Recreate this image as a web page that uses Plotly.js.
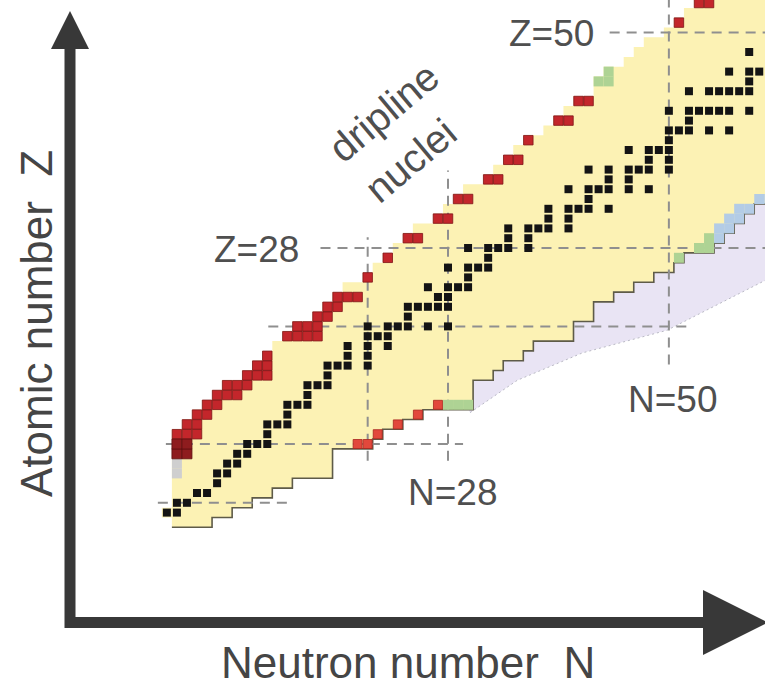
<!DOCTYPE html>
<html>
<head>
<meta charset="utf-8">
<script src="https://cdn.plot.ly/plotly-3.0.1.min.js"></script>
<style>
html,body{margin:0;padding:0;background:#fff;}
#chart{width:765px;height:689px;}
</style>
</head>
<body>
<div id="chart"></div>
<script>
// ---------- DATA ----------
// Rows of the chart: proton number Z and the lightest / heaviest known neutron number N
const zRows  = [0,1,2,3,4,5,6,7,8,9,10,11,12,13,14,15,16,17,18,19,20,21,22,23,24,25,26,27,28,29,30,31,32,33,34,35,36,37,38,39,40,41,42,43,44,45,46,47,48,49,50,51,52,53];
const nMinKnown = [1,0,1,1,1,1,1,1,1,1,2,3,4,5,6,8,9,10,11,12,13,15,16,17,18,20,21,22,23,24,25,27,28,29,30,32,33,34,35,36,38,39,40,41,43,43,44,46,47,48,50,51,52,53];
const nMaxKnown = [4,6,8,10,12,16,16,16,20,21,23,25,30,30,30,32,33,35,36,40,40,42,42,44,46,48,50,51,54,55,56,57,58,60,70,70,70,70,70,70,70,70,70,70,70,70,70,70,70,70,70,70,70,70];
const outlinedRows = 34; // neutron-rich edge drawn for Z = 0..33

// Stable nuclei: neutron numbers for each Z (index = Z)
const stableNByZ = [
  [],[0,1],[1,2],[3,4],[5],[5,6],[6,7],[7,8],[8,9,10],[10],
  [10,11,12],[12],[12,13,14],[14],[14,15,16],[16],[16,17,18,20],[18,20],[18,20,22],[20,21,22],
  [20,22,23,24,26,28],[24],[24,25,26,27,28],[27,28],[26,28,29,30],[30],[28,30,31,32],[32],[30,32,33,34,36],[34,36],
  [34,36,37,38,40],[38,40],[38,40,41,42,44],[42],[40,42,43,44,46,48],[44,46],[42,44,46,47,48,50],[48,50],[46,48,49,50],[50],
  [50,51,52,54,56],[52],[50,52,53,54,55,56,58],[],[52,54,55,56,57,58,60],[58],[56,58,59,60],[60],[58,60],[64],
  [62],[],[],[]
];

// Proton-dripline nuclei (red)
const dripRedN = [1,2,3, 2,3, 3,4, 4,5, 5,6,7, 6,7,8, 8,9,10, 9,10, 10, 12,13,14,15, 13,14,15, 15,16, 16,17, 17,18,19, 20, 22, 24,25, 27,28, 29,30, 32,33, 34,35, 36, 39,40, 41,42, 51, 53,54];
const dripRedZ = [9,9,9, 10,10, 11,11, 12,12, 13,13,13, 14,14,14, 15,15,15, 16,16, 17, 19,19,19,19, 20,20,20, 21,21, 22,22, 23,23,23, 25, 27, 29,29, 31,31, 33,33, 35,35, 37,37, 39, 41,41, 43,43, 51, 53,53];
// darker dripline cells at the light end
const dripDarkN = [1,2,1,2];
const dripDarkZ = [7,7,8,8];
// neutron-rich edge nuclei (light red)
const nRichRedN = [19,20,21,23,25,27];
const nRichRedZ = [8,8,9,10,11,12];
// green and blue edge cells
const greenN = [28,29,30,51,53,54,54,43,44,44];
const greenZ = [12,12,12,27,28,28,29,45,45,46];
const blueN  = [55,55,56,56,57,57,58,59,60];
const blueZ  = [29,30,30,31,31,32,32,33,33];
// grey cells
const greyN = [1,1];
const greyZ = [5,6];

// predicted region beyond the neutron-rich edge (dotted limit)
const dotLimitN = [30.2,34.9,41.4,49.8,59.6,62];
const dotLimitZ = [11.2,14.5,17.3,19.6,24.7,25.2];
const lavInnerN = [62,50,38,29];
const lavInnerZ = [40,34,22,14];

// magic-number guide lines
const magicZ      = [50,28,20,8,2];
const magicZFromN = [44.1,15.3,10.1,-0.1,-0.9];
const magicZToN   = [60,60,51.9,29.5,12.1];
const magicN      = [20,28,50];
const magicNFromZ = [6.3,6.3,16.1];
const magicNToZ   = [29.1,35.9,54];

// ---------- BUILD ----------
const polyX=[], polyY=[];
for (let i=0;i<zRows.length;i++){ polyX.push(nMinKnown[i]-0.5,nMinKnown[i]-0.5); polyY.push(zRows[i]-0.5,zRows[i]+0.5); }
for (let i=zRows.length-1;i>=0;i--){ polyX.push(nMaxKnown[i]+0.5,nMaxKnown[i]+0.5); polyY.push(zRows[i]+0.5,zRows[i]-0.5); }

const edgeX=[nMinKnown[0]-0.5], edgeY=[zRows[0]-0.5];
for (let i=0;i<outlinedRows;i++){ edgeX.push(nMaxKnown[i]+0.5,nMaxKnown[i]+0.5); edgeY.push(zRows[i]-0.5,zRows[i]+0.5); }

const lavX = dotLimitN.concat(lavInnerN), lavY = dotLimitZ.concat(lavInnerZ);

const guideX=[], guideY=[];
magicZ.forEach((z,i)=>{ guideX.push(magicZFromN[i],magicZToN[i],null); guideY.push(z,z,null); });
magicN.forEach((n,i)=>{ guideX.push(n,n,null); guideY.push(magicNFromZ[i],magicNToZ[i],null); });

const stN=[], stZ=[];
stableNByZ.forEach((list,z)=>list.forEach(n=>{ stN.push(n); stZ.push(z); }));

function cells(x,y,color,size,lineColor){
  return {type:'scatter',mode:'markers',x:x,y:y,hoverinfo:'skip',
    marker:{symbol:'square',size:size,color:color,line:{width:lineColor?0.8:0,color:lineColor||color}}};
}

const traces = [
  {type:'scatter',mode:'lines',x:lavX,y:lavY,fill:'toself',fillcolor:'#e9e4f4',line:{width:0},hoverinfo:'skip'},
  {type:'scatter',mode:'lines',x:dotLimitN,y:dotLimitZ,line:{color:'#b9b9c4',width:1,dash:'2px,3px'},hoverinfo:'skip'},
  {type:'scatter',mode:'lines',x:polyX,y:polyY,fill:'toself',fillcolor:'#fcf2b4',line:{width:0},hoverinfo:'skip'},
  {type:'scatter',mode:'lines',x:edgeX,y:edgeY,line:{color:'#5e5b48',width:1.6},hoverinfo:'skip'},
  {type:'scatter',mode:'lines',x:guideX,y:guideY,line:{color:'#8f8f8f',width:2,dash:'10px,7px'},hoverinfo:'skip'},
  cells(greyN,greyZ,'#cfcfcf',10),
  cells(greenN,greenZ,'#aed394',10),
  cells(blueN,blueZ,'#b3cce6',10),
  cells(nRichRedN,nRichRedZ,'#e2483c',9,'#a8261e'),
  cells(dripRedN,dripRedZ,'#c3262b',9.5,'#7d1416'),
  cells(dripDarkN,dripDarkZ,'#8e1c1e',10,'#5e1010'),
  cells(stN,stZ,'#141414',8)
];

// pixel helpers for the drawn axes arrows (paper coordinates)
const W=765,H=689;
const px=x=>x/W, py=y=>1-y/H;
const axisColor='#383838';
const shapes=[
  {type:'line',xref:'paper',yref:'paper',x0:px(70),x1:px(70),y0:py(628),y1:py(46),line:{color:axisColor,width:11}},
  {type:'line',xref:'paper',yref:'paper',x0:px(65),x1:px(706),y0:py(622.5),y1:py(622.5),line:{color:axisColor,width:11}},
  {type:'path',xref:'paper',yref:'paper',fillcolor:axisColor,line:{width:0},
    path:`M ${px(51)},${py(49)} L ${px(89)},${py(49)} L ${px(70)},${py(11)} Z`},
  {type:'path',xref:'paper',yref:'paper',fillcolor:axisColor,line:{width:0},
    path:`M ${px(703)},${py(590)} L ${px(703)},${py(655)} L ${px(768)},${py(622.5)} Z`}
];

const fam='Liberation Sans, Arimo, Arial, sans-serif';
const labFont={family:fam,size:37,color:'#4f4f4f'};
const dripFont={family:fam,size:40,color:'#4f4f4f'};
const titleFont={family:fam,size:44,color:'#454545'};
const annotations=[
  {x:38.3,y:49.9,text:'Z=50',showarrow:false,font:labFont,xanchor:'center',yanchor:'middle'},
  {x:8.9,y:27.8,text:'Z=28',showarrow:false,font:labFont,xanchor:'center',yanchor:'middle'},
  {x:28.4,y:3.1,text:'N=28',showarrow:false,font:labFont,xanchor:'center',yanchor:'middle'},
  {x:50.4,y:12.5,text:'N=50',showarrow:false,font:labFont,xanchor:'center',yanchor:'middle'},
  {x:21.6,y:41.9,text:'dripline',textangle:-40,showarrow:false,font:dripFont,xanchor:'center',yanchor:'middle'},
  {x:24.3,y:37.0,text:'nuclei',textangle:-40,showarrow:false,font:dripFont,xanchor:'center',yanchor:'middle'},
  {xref:'paper',yref:'paper',x:px(37),y:py(324),text:'Atomic number\u00a0\u00a0Z',textangle:-90,showarrow:false,font:titleFont,xanchor:'center',yanchor:'middle'},
  {xref:'paper',yref:'paper',x:px(408),y:py(662),text:'Neutron number\u00a0\u00a0N',showarrow:false,font:titleFont,xanchor:'center',yanchor:'middle'}
];

const layout={
  width:W,height:H,margin:{l:0,r:0,t:0,b:0},
  paper_bgcolor:'#ffffff',plot_bgcolor:'#ffffff',showlegend:false,
  xaxis:{range:[-16.622,59.574],visible:false,showgrid:false,zeroline:false,fixedrange:true},
  yaxis:{range:[-17.0,53.306],visible:false,showgrid:false,zeroline:false,fixedrange:true},
  shapes:shapes,annotations:annotations
};
Plotly.newPlot('chart',traces,layout,{staticPlot:true,displayModeBar:false});
</script>
</body>
</html>
